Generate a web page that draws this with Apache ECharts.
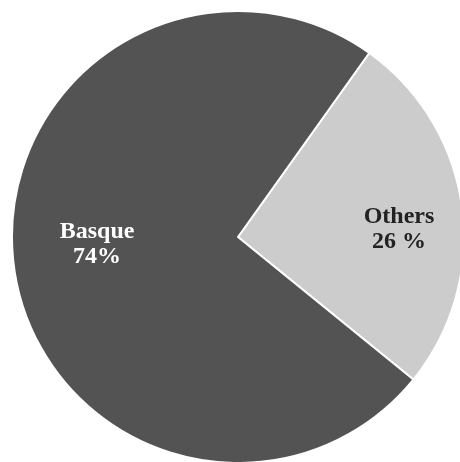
<!DOCTYPE html>
<html>
<head>
<meta charset="utf-8">
<script src="https://cdn.jsdelivr.net/npm/echarts@6/dist/echarts.min.js"></script>
<style>
  html, body { margin: 0; padding: 0; background: #fff; }
  #main { width: 460px; height: 462px; }
</style>
</head>
<body>
<div id="main"></div>
<script>
  // data
  const names = ['Others', 'Basque'];
  const values = [26, 74];
  const labelTexts = ['{b}\n{d} %', '{b}\n{d}%'];

  const colors = ['#cccccc', '#535353'];
  const textColors = ['#222222', '#ffffff'];
  const offsets = [[46, 8], [-26, -8]];

  const chart = echarts.init(document.getElementById('main'));

  const option = {
    animation: false,
    series: [
      {
        type: 'pie',
        center: [238, 237],
        radius: 226,
        startAngle: 54.5,
        clockwise: true,
        silent: true,
        itemStyle: {
          borderColor: '#ffffff',
          borderWidth: 2
        },
        label: {
          position: 'inside',
          fontFamily: '"Liberation Serif", "Times New Roman", serif',
          fontWeight: 'bold',
          fontSize: 24,
          lineHeight: 25,
          align: 'center'
        },
        labelLine: { show: false },
        data: names.map((n, i) => ({
          name: n,
          value: values[i],
          itemStyle: { color: colors[i] },
          label: {
            formatter: labelTexts[i],
            color: textColors[i],
            offset: offsets[i]
          }
        }))
      }
    ]
  };

  chart.setOption(option);
</script>
</body>
</html>
